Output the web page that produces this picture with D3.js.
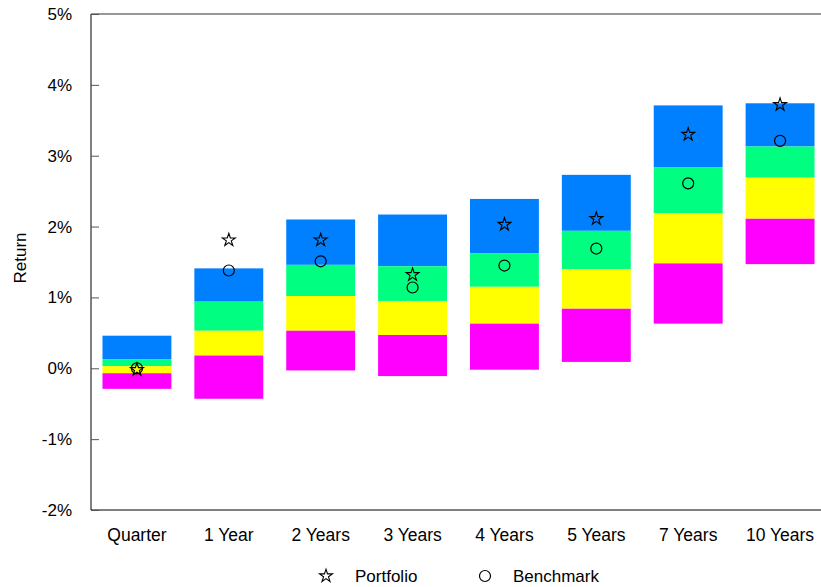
<!DOCTYPE html>
<html>
<head>
<meta charset="utf-8">
<script src="https://cdn.jsdelivr.net/npm/d3@7"></script>
<style>
  html, body { margin: 0; padding: 0; background: #fff; }
  svg { display: block; font-family: "Liberation Sans", Arial, sans-serif; }
</style>
</head>
<body>
<svg id="chart" width="821" height="587"></svg>
<script>
// Return periods
const periods = ["Quarter", "1 Year", "2 Years", "3 Years", "4 Years", "5 Years", "7 Years", "10 Years"];

// Percentile boundaries of the peer universe (% return), top to bottom
const pct5  = [0.46, 1.41, 2.10, 2.17, 2.39, 2.73, 3.71, 3.74];
const pct25 = [0.13, 0.94, 1.46, 1.44, 1.62, 1.94, 2.84, 3.13];
const pct50 = [0.03, 0.53, 1.02, 0.95, 1.15, 1.40, 2.19, 2.69];
const pct75 = [-0.07, 0.18, 0.53, 0.47, 0.63, 0.84, 1.48, 2.11];
const pct95 = [-0.29, -0.43, -0.03, -0.11, -0.02, 0.09, 0.63, 1.47];

// Portfolio and benchmark returns (%)
const portfolio = [-0.02, 1.81, 1.81, 1.32, 2.03, 2.11, 3.30, 3.72];
const benchmark = [0.00, 1.38, 1.51, 1.14, 1.45, 1.69, 2.61, 3.21];

// Y axis ticks (%)
const yTicks = [-2, -1, 0, 1, 2, 3, 4, 5];

const bandColors = ["#0080ff", "#00ff80", "#ffff00", "#ff00ff"];

const svg = d3.select("#chart");
const plotL = 91, plotR = 826, plotT = 14, plotB = 510;

const x = d3.scaleBand().domain(periods).range([plotL, plotR])
  .paddingInner(0.25).paddingOuter(0.125);
const y = d3.scaleLinear().domain([-2, 5]).range([plotB, plotT]);

// Stacked quartile bands for each period
const bounds = [pct5, pct25, pct50, pct75, pct95];
const segs = [];
periods.forEach((p, i) => {
  for (let k = 0; k < 4; k++) {
    segs.push({ period: p, hi: bounds[k][i], lo: bounds[k + 1][i], color: bandColors[k] });
  }
});

svg.append("g").selectAll("rect").data(segs).join("rect")
  .attr("x", d => x(d.period))
  .attr("width", x.bandwidth())
  .attr("y", d => y(d.hi))
  .attr("height", d => y(d.lo) - y(d.hi))
  .attr("fill", d => d.color);

// Frame: left, top and bottom lines
svg.append("line").attr("x1", plotL).attr("x2", plotL).attr("y1", plotT).attr("y2", plotB)
  .attr("stroke", "#000").attr("stroke-width", 1);
svg.append("line").attr("x1", plotL).attr("x2", 821).attr("y1", plotT).attr("y2", plotT)
  .attr("stroke", "#333").attr("stroke-width", 1.2);
svg.append("line").attr("x1", plotL).attr("x2", 821).attr("y1", plotB).attr("y2", plotB)
  .attr("stroke", "#000").attr("stroke-width", 1);

// Y axis with inward ticks
const yAxis = d3.axisRight(y).tickValues(yTicks).tickSize(8).tickFormat(d => d + "%");
const gy = svg.append("g").attr("transform", `translate(${plotL},0)`).call(yAxis);
gy.select(".domain").remove();
gy.selectAll(".tick line").attr("stroke", "#555");
gy.selectAll(".tick text")
  .attr("x", -19).attr("text-anchor", "end")
  .attr("font-size", 17).attr("font-family", "Liberation Sans, Arial, sans-serif")
  .attr("fill", "#000");

// X axis labels
const xAxis = d3.axisBottom(x).tickSize(0).tickPadding(19);
const gx = svg.append("g").attr("transform", `translate(0,${plotB})`).call(xAxis);
gx.select(".domain").remove();
gx.selectAll(".tick text")
  .attr("font-size", 17.5).attr("font-family", "Liberation Sans, Arial, sans-serif")
  .attr("fill", "#000");

// Y axis title
svg.append("text")
  .attr("transform", `translate(26,258) rotate(-90)`)
  .attr("text-anchor", "middle")
  .attr("font-size", 17)
  .text("Return");

// Markers
const star = d3.symbol().type(d3.symbolStar).size(52);
const cx = p => x(p) + x.bandwidth() / 2;

svg.append("g").selectAll("circle").data(benchmark).join("circle")
  .attr("cx", (d, i) => cx(periods[i]))
  .attr("cy", d => y(d))
  .attr("r", 5.5)
  .attr("fill", "none").attr("stroke", "#000").attr("stroke-width", 1.2);

svg.append("g").selectAll("path").data(portfolio).join("path")
  .attr("d", star)
  .attr("transform", (d, i) => `translate(${cx(periods[i])},${y(d)})`)
  .attr("fill", "none").attr("stroke", "#000").attr("stroke-width", 1.1);

// Legend
const leg = svg.append("g");
leg.append("path").attr("d", star).attr("transform", "translate(326,576)")
  .attr("fill", "none").attr("stroke", "#000").attr("stroke-width", 1.1);
leg.append("text").attr("x", 355).attr("y", 582).attr("font-size", 17).text("Portfolio");
leg.append("circle").attr("cx", 485).attr("cy", 576).attr("r", 5.5)
  .attr("fill", "none").attr("stroke", "#000").attr("stroke-width", 1.2);
leg.append("text").attr("x", 513).attr("y", 582).attr("font-size", 17).text("Benchmark");
</script>
</body>
</html>
